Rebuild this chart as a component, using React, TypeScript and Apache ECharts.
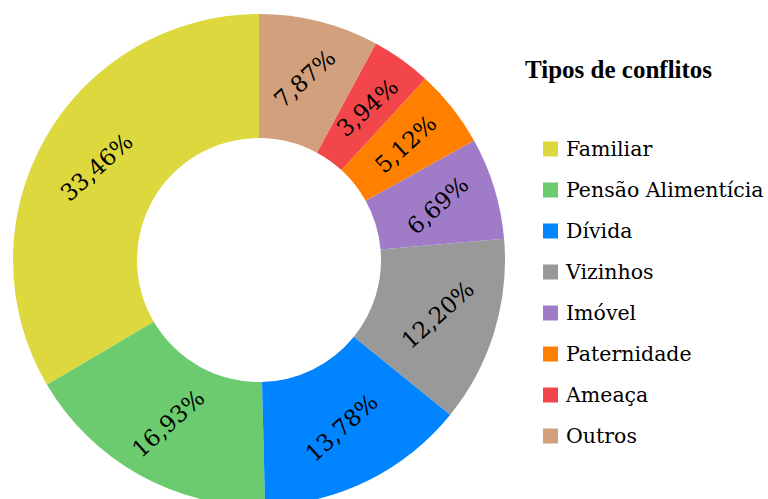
import React, { useEffect, useRef } from "react";
import * as echarts from "echarts";

const categories = ["Familiar", "Pensão Alimentícia", "Dívida", "Vizinhos", "Imóvel", "Paternidade", "Ameaça", "Outros"];
const counts = [85, 43, 35, 31, 17, 13, 10, 20];
const colors = ["#DCD83E", "#6CCB6E", "#0084FF", "#999999", "#A07CC8", "#FF8000", "#F2464A", "#D2A07D"];
const legendTitle = "Tipos de conflitos";

export default function App() {
  const ref = useRef<HTMLDivElement>(null);
  useEffect(() => {
    if (!ref.current) return;
    const chart = echarts.init(ref.current, null, { renderer: "svg" });
    const total = counts.reduce((a, b) => a + b, 0);
    chart.setOption({
      animation: false,
      color: colors,
      title: {
        text: legendTitle,
        left: 525,
        top: 57,
        padding: 0,
        textStyle: { fontFamily: "Liberation Serif", fontSize: 25, fontWeight: "bold", color: "#000" },
      },
      legend: {
        orient: "vertical",
        left: 543,
        top: 137,
        padding: 0,
        icon: "rect",
        itemWidth: 15,
        itemHeight: 15,
        itemGap: 17,
        data: categories,
        selectedMode: false,
        textStyle: { fontFamily: "DejaVu Serif", fontSize: 20.5, lineHeight: 24, color: "#000", padding: [0, 0, 0, 3] },
      },
      series: [
        {
          type: "pie",
          center: [259, 260],
          radius: [122, 246],
          startAngle: 90,
          clockwise: false,
          avoidLabelOverlap: false,
          label: {
            show: true,
            position: "inside",
            rotate: 42,
            fontFamily: "DejaVu Serif",
            fontSize: 23,
            color: "#000",
            formatter: (p: any) => ((p.value / total) * 100).toFixed(2).replace(".", ",") + "%",
          },
          labelLine: { show: false },
          emphasis: { disabled: true },
          data: categories.map((c, i) => ({ name: c, value: counts[i] })),
        },
      ],
    });
    return () => chart.dispose();
  }, []);
  return <div ref={ref} style={{ position: "absolute", left: 0, top: 0, width: 768, height: 499 }} />;
}
